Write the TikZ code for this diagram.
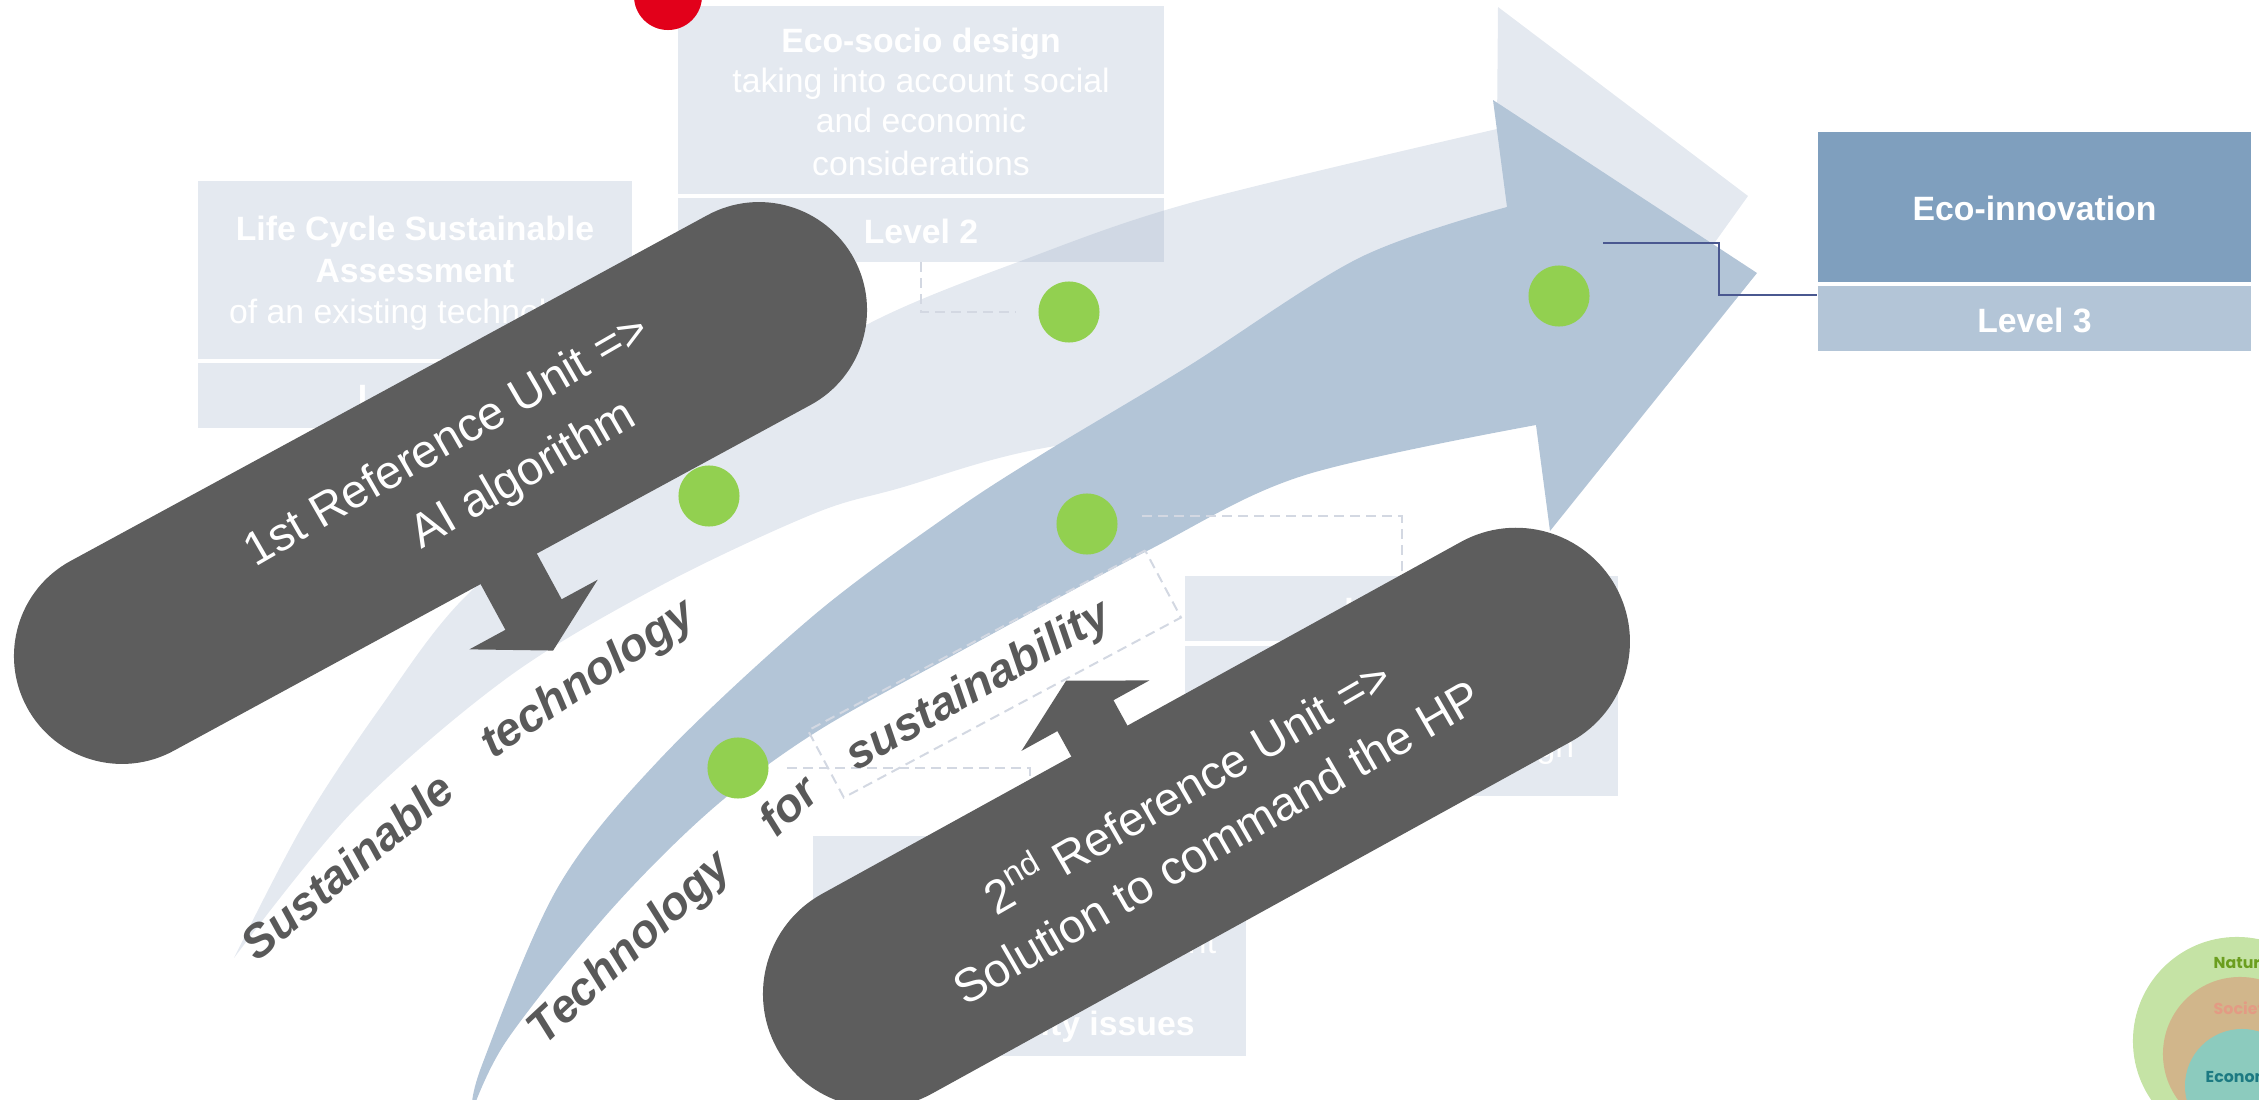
\documentclass[tikz,border=0pt]{standalone}
\usepackage{fontspec}
\setmainfont{Liberation Sans}
\newfontfamily\vennfont{Poppins}
\usetikzlibrary{calc}

\definecolor{panelfill}{HTML}{E4E9F0}
\definecolor{lightband}{HTML}{97AAC5}
\definecolor{blueband}{HTML}{B3C5D7}
\definecolor{ecoblue}{HTML}{7F9FBE}
\definecolor{levelblue}{HTML}{B3C5D7}
\definecolor{blobfill}{HTML}{5D5D5D}
\definecolor{dotgreen}{HTML}{92D050}
\definecolor{dotred}{HTML}{E2001A}
\definecolor{labelgray}{HTML}{595959}
\definecolor{dashgray}{HTML}{D3D8E2}
\definecolor{linknavy}{HTML}{4A5890}
\definecolor{naturefill}{HTML}{C5E3A5}
\definecolor{societyfill}{HTML}{D1B68B}
\definecolor{economyfill}{HTML}{8CCBBE}
\definecolor{naturetext}{HTML}{6B9E1F}
\definecolor{societytext}{HTML}{E39B84}
\definecolor{economytext}{HTML}{1C7A82}

\begin{document}
\begin{tikzpicture}[x=0.01cm, y=-0.01cm,
  panel/.style={fill=panelfill, inner sep=0pt, outer sep=0pt},
  ptext/.style={text=white, anchor=base, inner sep=0pt, font=\fontsize{9.6pt}{11.5pt}\selectfont},
  ptitle/.style={ptext, font=\fontsize{9.6pt}{11.5pt}\selectfont\bfseries},
  gdot/.style={circle, fill=dotgreen, minimum size=0.61cm, inner sep=0pt},
  dashline/.style={draw=dashgray, line width=0.02cm, dash pattern=on 0.1cm off 0.06cm},
  link/.style={draw=linknavy, line width=0.02cm},
  bandlabel/.style={text=labelgray, inner sep=0pt, font=\fontsize{13.2pt}{16pt}\selectfont\bfseries\itshape},
  blobtext/.style={text=white, inner sep=0pt, anchor=base, font=\fontsize{13.4pt}{16pt}\selectfont},
  venntext/.style={anchor=base west, inner sep=0pt, font=\vennfont\bfseries\fontsize{4.5pt}{6pt}\selectfont}
]
\useasboundingbox (0,0) rectangle (2259,1100);
\clip (0,0) rectangle (2259,1100);

% ---------- level panels ----------
\node[panel, minimum width=4.34cm, minimum height=1.78cm] (lcsa) at (415,270) {};
\node[panel, minimum width=4.34cm, minimum height=0.65cm] (lvone) at (415,395.5) {};
\node[ptitle] at (415,240) {Life Cycle Sustainable};
\node[ptitle] at (415,282) {Assessment};
\node[ptext]  at (415,323) {of an existing technology};
\node[ptitle] at (415,408) {Level 1};

\node[panel, minimum width=4.86cm, minimum height=1.88cm] (ecosocio) at (921,100) {};
\node[panel, minimum width=4.86cm, minimum height=0.64cm] (lvtwo) at (921,230) {};
\node[ptitle] at (921,52)  {Eco-socio design};
\node[ptext]  at (921,92)  {taking into account social};
\node[ptext]  at (921,133) {and economic};
\node[ptext]  at (921,175) {considerations};
\node[ptitle] at (921,243) {Level 2};

\node[panel, minimum width=4.33cm, minimum height=0.65cm] (brlevel) at (1401.5,608.5) {};
\node[panel, minimum width=4.33cm, minimum height=1.50cm] (brbody) at (1401.5,721) {};
\node[ptitle] at (1401.5,621) {Level 2};
\node[ptext]  at (1401.5,757) {of an innovative design};

\node[panel, minimum width=4.33cm, minimum height=0.65cm] (bmlevel) at (1029.5,868.5) {};
\node[panel, minimum width=4.33cm, minimum height=1.50cm] (bmbody) at (1029.5,981) {};
\node[ptext]  at (1029.5,953) {Technology development};
\node[ptitle] at (1029.5,1035) {sustainability issues};

\node[fill=ecoblue, inner sep=0pt, minimum width=4.33cm, minimum height=1.50cm] (ecoinno) at (2034.5,207) {};
\node[fill=levelblue, inner sep=0pt, minimum width=4.33cm, minimum height=0.65cm] (lvthree) at (2034.5,318.5) {};
\node[ptitle] at (2034.5,220) {Eco-innovation};
\node[ptitle] at (2034.5,332) {Level 3};

% ---------- red marker ----------
\node[circle, fill=dotred, minimum size=0.68cm, inner sep=0pt] (reddot) at (668,-4) {};

% ---------- back arrow: sustainable technology ----------
\fill[lightband, fill opacity=0.26] (234,958)
  -- plot[smooth, tension=0.55] coordinates {(234,958) (303,825) (380,708) (466,596) (600,490) (750,393) (880,318) (1018,262) (1190,203) (1497,129)}
  -- (1498,7) -- (1748,196) -- (1574,439) -- (1550,400)
  -- plot[smooth, tension=0.55] coordinates {(1550,400) (1300,414) (1044,448) (900,488) (813,514) (660,586) (507,678) (354,810) (234,958)}
  -- cycle;

% ---------- front arrow: technology for sustainability ----------
\fill[blueband] (472,1112)
  -- plot[smooth, tension=0.55] coordinates {(472,1112) (482,1065) (558,887) (660,759) (813,616) (950,514) (1044,453) (1187,367) (1359,258) (1507,207)}
  -- (1493,100) -- (1757,273) -- (1550,531) -- (1536,425)
  -- plot[smooth, tension=0.55] coordinates {(1536,425) (1302,476) (1147,551) (950,657) (813,734) (711,810) (609,912) (507,1040) (472,1112)}
  -- cycle;

% ---------- milestones ----------
\node[gdot] (dot1) at (709,496) {};
\node[gdot] (dot2) at (1069,312) {};
\node[gdot] (dot3) at (1559,296) {};
\node[gdot] (dot4) at (1087,524) {};
\node[gdot] (dot5) at (738,768) {};

% ---------- connectors ----------
\draw[dashline] (lvtwo.south) |- ([xshift=-0.22cm]dot2.west);
\draw[dashline] ([xshift=0.24cm, yshift=0.08cm]dot4.east) -| (brlevel.north);
\draw[dashline] ([xshift=0.18cm]dot5.east) -| (bmlevel.north);
\coordinate (ecostart) at (1603,243);
\draw[link] (ecostart) -- ++(116,0) |- ([yshift=-0.1cm]lvthree.north west);

% ---------- band labels ----------
\node[bandlabel, rotate=40] (lblsust) at (347,866) {Sustainable};
\node[bandlabel, rotate=34] (lbltech) at (589,680) {technology};
\node[bandlabel, rotate=43] (lblTech) at (631,949) {Technology};
\node[bandlabel, rotate=43] (lblfor) at (788,805) {for};
\node[draw=dashgray, line width=0.02cm, dash pattern=on 0.1cm off 0.06cm,
      minimum width=3.82cm, minimum height=0.76cm, inner sep=0pt, rotate=28.1] (susbox) at (994.5,674) {};
\node[bandlabel, rotate=30] (lblsus) at (979,687) {sustainability};

% ---------- first reference unit ----------
\begin{scope}[shift={(440.5,483)}, rotate=28.5]
  \fill[blobfill, rounded corners=1.08cm] (-470.5,-108) rectangle (470.5,108);
  \fill[blobfill] (-13,90) -- (-13,160) -- (-54,160) -- (19,201) -- (92,160) -- (51,160) -- (51,90) -- cycle;
  \node[blobtext, rotate=30] (ruone) at (26,-20) {1st Reference Unit =>};
  \node[blobtext, rotate=30] (ruonesub) at (77,46) {AI algorithm};
\end{scope}

% ---------- second reference unit ----------
\begin{scope}[shift={(1195.5,816)}, rotate=28.85]
  \fill[blobfill, rounded corners=1.14cm] (-478.8,-112) rectangle (478.8,116);
  \fill[blobfill] (-80,-95) -- (-80,-141) -- (-121,-141) -- (-48,-181) -- (25,-141) -- (-16,-141) -- (-16,-95) -- cycle;
  \node[blobtext, rotate=30] (rutwo) at (7.5,-12.5) {2\textsuperscript{nd} Reference Unit =>};
  \node[blobtext, rotate=30] (rutwosub) at (6.3,50) {Solution to command the HP};
\end{scope}

% ---------- nested spheres ----------
\fill[naturefill] (2237,1041) circle[radius=1.04cm];
\fill[societyfill] (2240,1054) circle[radius=0.77cm];
\fill[economyfill] (2242,1086) circle[radius=0.57cm];
\node[venntext, text=naturetext] (nature) at (2213,968) {Nature};
\node[venntext, text=societytext] (society) at (2213,1014) {Society};
\node[venntext, text=economytext] (economy) at (2205,1082) {Economy};
\end{tikzpicture}
\end{document}
